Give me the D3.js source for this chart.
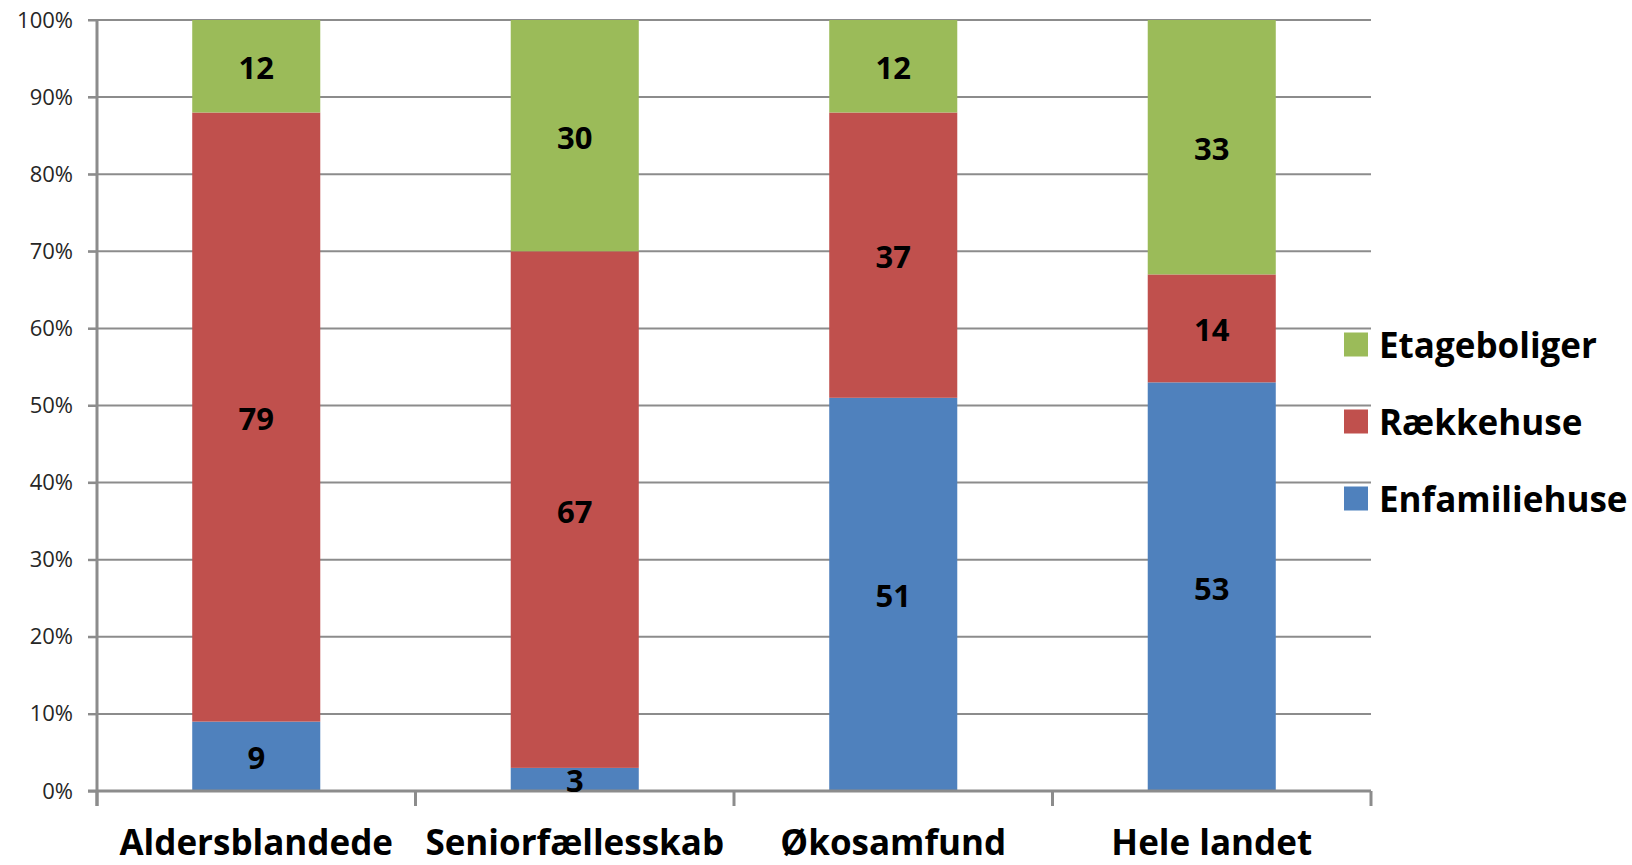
<!DOCTYPE html>
<html><head><meta charset="utf-8">
<script src="https://cdn.jsdelivr.net/npm/d3@7"></script>
<style>html,body{margin:0;padding:0;background:#fff;}svg{display:block;}</style>
</head><body>
<svg id="chart" width="1632" height="865"></svg>
<script>
const categories = ["Aldersblandede", "Seniorfællesskab", "Økosamfund", "Hele landet"];
const seriesNames = ["Enfamiliehuse", "Rækkehuse", "Etageboliger"];
const enfamiliehuse = [9, 3, 51, 53];
const raekkehuse = [79, 67, 37, 14];
const etageboliger = [12, 30, 12, 33];
const yTicks = [0, 10, 20, 30, 40, 50, 60, 70, 80, 90, 100];
const seriesColors = ["#4F81BD", "#C0504D", "#9BBB59"];

(function () {
const seriesValues = [enfamiliehuse, raekkehuse, etageboliger];
const rows = categories.map((c, i) => {
  const r = {cat: c};
  seriesNames.forEach((s, j) => r[s] = seriesValues[j][i]);
  return r;
});
const stacked = d3.stack().keys(seriesNames)(rows);

const svg = d3.select("#chart");
const mLeft = 97, mRight = 1371, mTop = 20, mBottom = 791;
const x = d3.scaleBand().domain(categories).range([mLeft, mRight]).padding(0);
const y = d3.scaleLinear().domain([0, 100]).range([mBottom, mTop]);
const barW = x.bandwidth() * 0.402;
const gray = "#8c8c8c";
const font = "'Open Sans', sans-serif";

// gridlines
svg.append("g").selectAll("line").data(yTicks.filter(t => t > 0)).join("line")
  .attr("x1", mLeft - 9).attr("x2", mRight)
  .attr("y1", d => y(d)).attr("y2", d => y(d))
  .attr("stroke", gray).attr("stroke-width", 2);

// bars
const g = svg.append("g");
stacked.forEach((layer, j) => {
  g.append("g").selectAll("rect").data(layer).join("rect")
    .attr("x", d => x(d.data.cat) + (x.bandwidth() - barW) / 2)
    .attr("width", barW)
    .attr("y", d => y(d[1]))
    .attr("height", d => y(d[0]) - y(d[1]))
    .attr("fill", seriesColors[j]);
});

// y axis
const yAxis = d3.axisLeft(y).tickValues(yTicks).tickFormat(d => d + "%").tickSize(9).tickPadding(15);
const ya = svg.append("g").attr("transform", `translate(${mLeft},0)`).call(yAxis);
ya.select(".domain").remove();
ya.selectAll(".tick line").attr("stroke", gray).attr("stroke-width", 2);
ya.selectAll(".tick text").attr("font-family", font).attr("font-size", 22).attr("fill", "#262626");
svg.append("line").attr("x1", mLeft).attr("x2", mLeft).attr("y1", mTop).attr("y2", mBottom + 15)
  .attr("stroke", gray).attr("stroke-width", 3);

// x axis
svg.append("line").attr("x1", mLeft - 9).attr("x2", mRight).attr("y1", mBottom).attr("y2", mBottom)
  .attr("stroke", gray).attr("stroke-width", 3);
const xTickPos = categories.map(c => x(c)).concat([mRight]);
svg.append("g").selectAll("line").data(xTickPos).join("line")
  .attr("x1", d => d).attr("x2", d => d).attr("y1", mBottom).attr("y2", mBottom + 15)
  .attr("stroke", gray).attr("stroke-width", 3);
svg.append("g").selectAll("text").data(categories).join("text")
  .attr("x", d => x(d) + x.bandwidth() / 2).attr("y", 855)
  .attr("text-anchor", "middle").attr("font-family", font).attr("font-weight", "bold")
  .attr("font-size", 35).attr("fill", "#000").text(d => d);

// data labels
stacked.forEach((layer) => {
  svg.append("g").selectAll("text").data(layer).join("text")
    .attr("x", d => x(d.data.cat) + x.bandwidth() / 2)
    .attr("y", d => y((d[0] + d[1]) / 2))
    .attr("dy", "0.42em")
    .attr("text-anchor", "middle").attr("font-family", font).attr("font-weight", "bold")
    .attr("font-size", 31).attr("fill", "#000")
    .text(d => d[1] - d[0]);
});

// legend
const legendItems = seriesNames.slice().reverse();
const legendColors = seriesColors.slice().reverse();
const lg = svg.append("g");
legendItems.forEach((s, i) => {
  const cy = 344.5 + i * 77;
  lg.append("rect").attr("x", 1344).attr("y", cy - 12).attr("width", 24).attr("height", 24)
    .attr("fill", legendColors[i]);
  lg.append("text").attr("x", 1379).attr("y", cy).attr("dy", "0.38em")
    .attr("font-family", font).attr("font-weight", "bold").attr("font-size", 35)
    .attr("fill", "#000").text(s);
});
})();
</script>
</body></html>
